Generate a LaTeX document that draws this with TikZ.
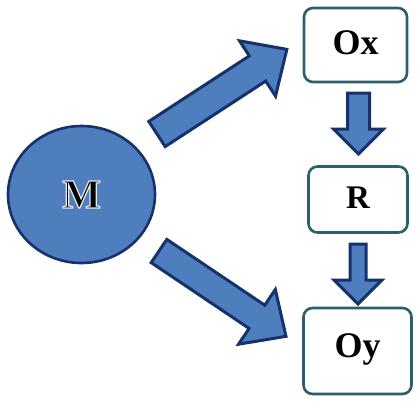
\documentclass[tikz,border=0pt]{standalone}
\usepackage{fontspec}
\setmainfont{Liberation Serif}
\usetikzlibrary{shapes.geometric}
\definecolor{bfill}{HTML}{4E7EBD}
\definecolor{bline}{HTML}{15326B}
\definecolor{boxline}{HTML}{2C5F6E}
\tikzset{
  arr/.style={fill=bfill, draw=bline, line width=3pt, line join=miter},
  box/.style={draw=boxline, line width=2.6pt, rounded corners=9pt, fill=white},
  lbl/.style={font=\bfseries\fontsize{36}{40}\selectfont, text=black},
}
\newcommand\barrow[7]{%
\begin{scope}[shift={(#1,#2)}, rotate=#3]
\draw[arr] (0,{-#5/2}) -- ({#4-#7},{-#5/2}) -- ({#4-#7},{-#6/2}) -- (#4,0) -- ({#4-#7},{#6/2}) -- ({#4-#7},{#5/2}) -- (0,{#5/2}) -- cycle;
\end{scope}}
\newcommand\embossM{\special{pdf:literal direct q 2 Tr 0.92 0.92 0.92 RG 1.2 w}M\special{pdf:literal direct Q}}
\begin{document}
\begin{tikzpicture}[x=1pt,y=-1pt]
\useasboundingbox (0,0) rectangle (417,400);
% circle M
\node[ellipse, draw=bline, fill=bfill, line width=2.6pt, minimum width=147pt, minimum height=137pt, inner sep=0pt] (m) at (81.5,194.5) {};
\node[lbl, font=\bfseries\fontsize{41}{44}\selectfont] (mt) at (m.center) {\embossM};
% boxes
\node[box, minimum width=103pt, minimum height=74pt] (ox) at (355.5,45) {};
\node[lbl] at ([yshift=2pt]ox.center) {Ox};
\node[box, minimum width=99pt, minimum height=66pt] (r) at (358,199.5) {};
\node[lbl, font=\bfseries\fontsize{33}{38}\selectfont] at ([yshift=2pt]r.center) {R};
\node[box, minimum width=108pt, minimum height=86pt] (oy) at (357.5,351) {};
\node[lbl] at ([yshift=2pt]oy.center) {Oy};
% block arrows
\barrow{157}{134}{33.1}{155}{30}{66}{35}
\barrow{159}{251}{-33.9}{153}{28}{66}{35}
\barrow{358.5}{93}{-90}{61}{22}{50}{25}
\barrow{358}{244}{-90}{60}{16}{48}{24}
\end{tikzpicture}
\end{document}
